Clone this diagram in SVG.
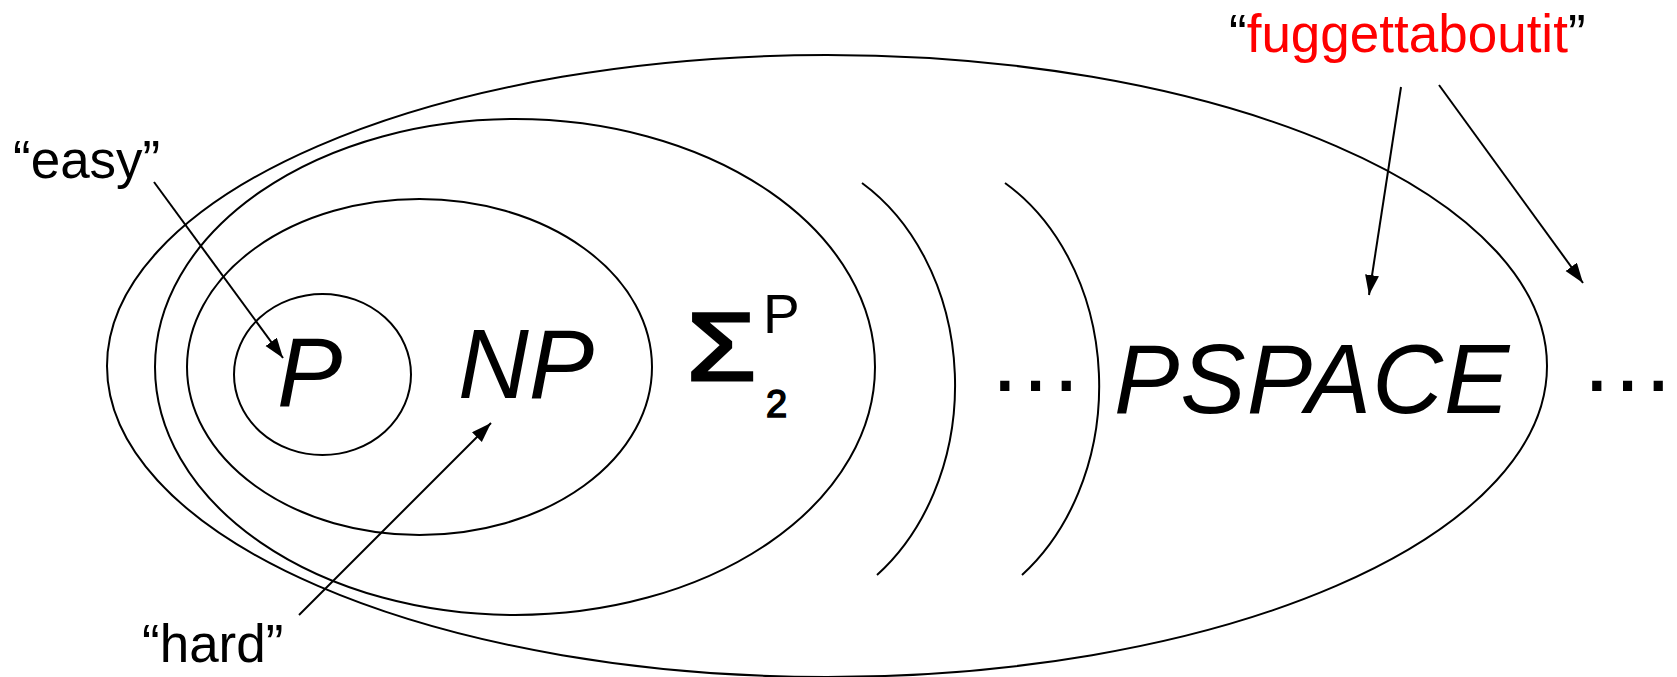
<svg xmlns="http://www.w3.org/2000/svg" width="1677" height="677" viewBox="0 0 1677 677">
  <style>
    .ln { fill: none; stroke: #000; stroke-width: 2; }
    .big { font-family: "Liberation Sans", Arial, sans-serif; font-style: italic; font-size: 98px; fill: #000; }
    .lbl { font-family: "Liberation Sans", Arial, sans-serif; font-size: 53px; fill: #000; }
    .dots { font-family: "Liberation Sans", Arial, sans-serif; font-size: 97px; fill: #000; }
    .sig { font-family: "Liberation Sans", Arial, sans-serif; fill: #000; stroke: #000; stroke-width: 3; }
    .sup { font-family: "Liberation Sans", Arial, sans-serif; font-size: 55px; fill: #000; }
    .sub { font-family: "Liberation Sans", Arial, sans-serif; fill: #000; stroke: #000; stroke-width: 1.6; }
  </style>
  <defs>
    <marker id="ah" markerUnits="userSpaceOnUse" markerWidth="22" markerHeight="16" refX="20" refY="7" orient="auto">
      <path d="M0,0 L20,7 L0,14 z" fill="#000"/>
    </marker>
  </defs>
  <rect width="1677" height="677" fill="#fff"/>

  <g id="pspace-class">
    <ellipse class="ln" cx="827" cy="366" rx="720" ry="311"/>
    <text class="big" x="1114" y="413" letter-spacing="1">PSPACE</text>
  </g>
  <g id="sigma2p-class">
    <ellipse class="ln" cx="515" cy="367" rx="360" ry="248"/>
    <text class="sig" x="0" y="0" font-size="96" transform="translate(687,380) scale(1.16,1)">Σ</text>
    <text class="sup" x="763" y="333">P</text>
    <text class="sub" x="766" y="417" font-size="38">2</text>
  </g>
  <g id="np-class">
    <ellipse class="ln" cx="419.5" cy="367" rx="232.5" ry="168"/>
    <text class="big" x="458" y="398">NP</text>
  </g>
  <g id="p-class">
    <ellipse class="ln" cx="322.5" cy="374.5" rx="88.5" ry="80.5"/>
    <text class="big" x="277" y="406">P</text>
  </g>
  <g id="hierarchy-arcs">
    <path class="ln" d="M862 183 A190 235 0 0 1 877 575"/>
    <path class="ln" d="M1005 183 A190 235 0 0 1 1022 575"/>
    <text class="dots" x="987" y="391">…</text>
    <text class="dots" x="1579" y="391">…</text>
  </g>
  <g id="label-easy">
    <text class="lbl" x="13" y="178">“easy”</text>
  </g>
  <g id="label-hard">
    <text class="lbl" x="142" y="662">“hard”</text>
  </g>
  <g id="label-fuggettaboutit">
    <text class="lbl" x="1229" y="52">“<tspan fill="#ff0000">fuggettaboutit</tspan>”</text>
  </g>
  <g id="connectors">
    <line class="ln" x1="154" y1="182" x2="283" y2="358" marker-end="url(#ah)"/>
    <line class="ln" x1="299" y1="615" x2="491" y2="423" marker-end="url(#ah)"/>
    <line class="ln" x1="1401" y1="87" x2="1369" y2="295" marker-end="url(#ah)"/>
    <line class="ln" x1="1439" y1="85" x2="1583" y2="283" marker-end="url(#ah)"/>
  </g>
</svg>
